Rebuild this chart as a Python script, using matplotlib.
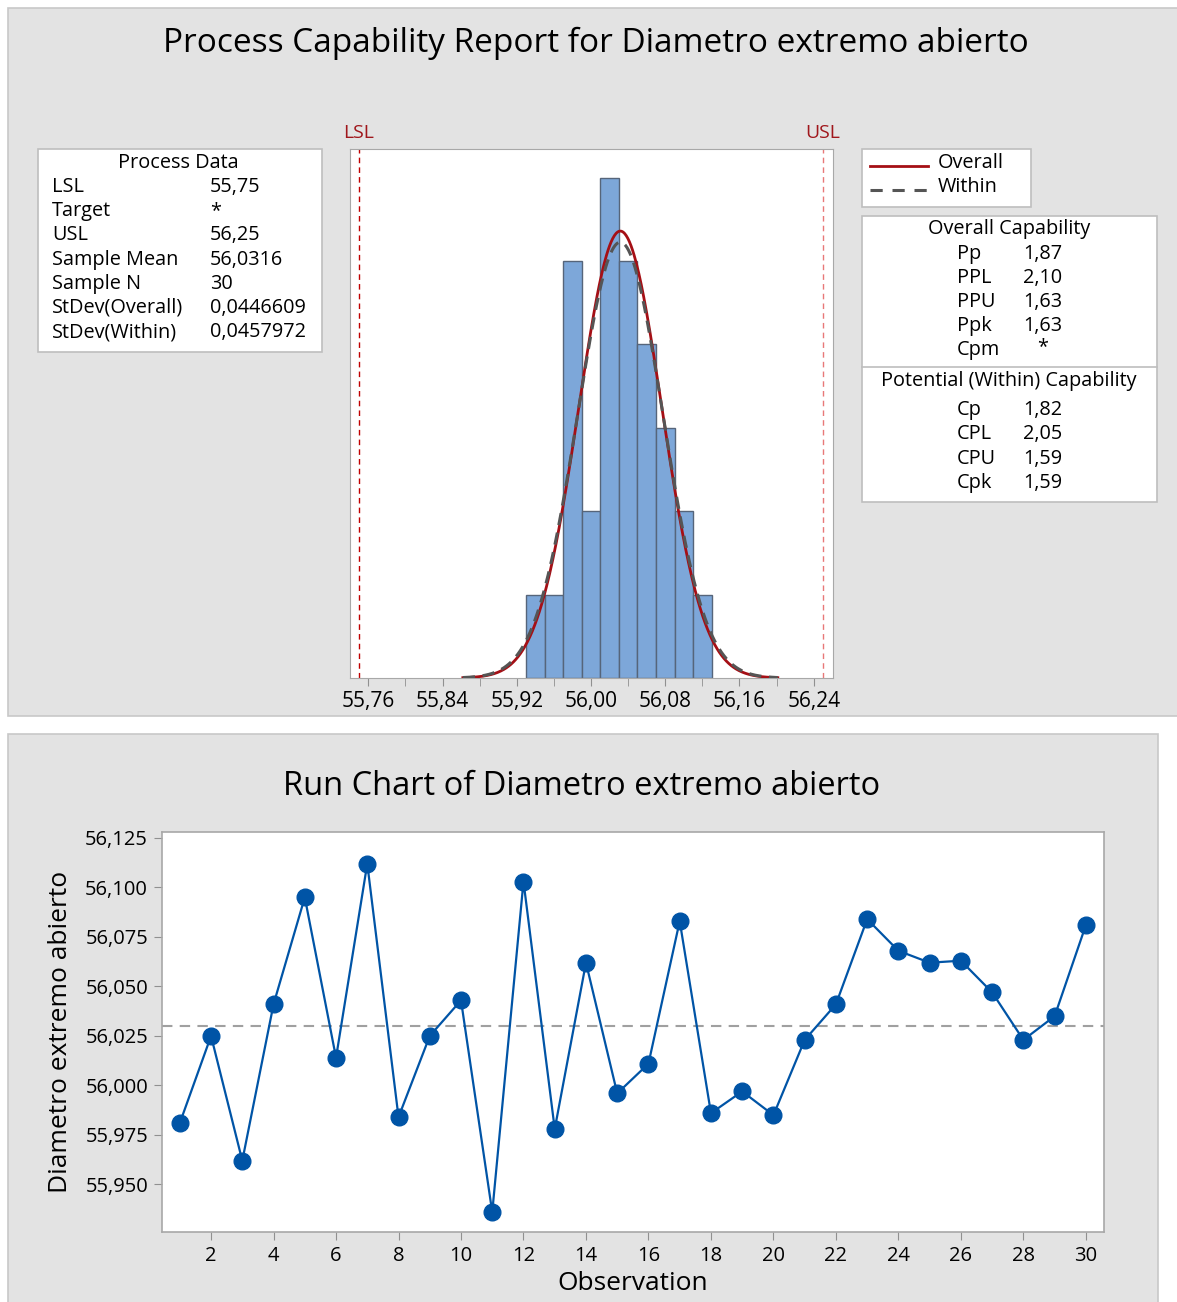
import numpy as np
import matplotlib
matplotlib.use("Agg")
import matplotlib.pyplot as plt
from matplotlib.patches import Rectangle
from matplotlib.lines import Line2D
from matplotlib.ticker import FuncFormatter, MultipleLocator

plt.rcParams['font.family'] = ['Open Sans', 'DejaVu Sans']

obs = np.arange(1, 31)
diam = [55.981, 56.025, 55.962, 56.041, 56.095, 56.014, 56.112, 55.984, 56.025, 56.043,
        55.936, 56.103, 55.978, 56.062, 55.996, 56.011, 56.083, 55.986, 55.997, 55.985,
        56.023, 56.041, 56.084, 56.068, 56.062, 56.063, 56.047, 56.023, 56.035, 56.081]

lsl = 55.75
usl = 56.25
mean_val = 56.0316
sd_overall = 0.0446609
sd_within = 0.0457972
bin_edges = np.round(np.arange(55.93, 56.131, 0.02), 2)

process_labels = ["LSL", "Target", "USL", "Sample Mean", "Sample N", "StDev(Overall)", "StDev(Within)"]
process_values = ["55,75", "*", "56,25", "56,0316", "30", "0,0446609", "0,0457972"]
overall_labels = ["Pp", "PPL", "PPU", "Ppk", "Cpm"]
overall_values = ["1,87", "2,10", "1,63", "1,63", "*"]
within_labels = ["Cp", "CPL", "CPU", "Cpk"]
within_values = ["1,82", "2,05", "1,59", "1,59"]

W, H = 1177, 1302
fig = plt.figure(figsize=(W / 100, H / 100), dpi=100)
TXT = 14.3


def fx(px):
    return px / W


def fy(py):
    return 1 - py / H


def box(l, t, r, b, fc, ec):
    fig.add_artist(Rectangle((fx(l), fy(b)), (r - l) / W, (b - t) / H,
                             facecolor=fc, edgecolor=ec, lw=1.2, transform=fig.transFigure, zorder=0))


def comma(fmt):
    return FuncFormatter(lambda v, p: (fmt % v).replace('.', ','))


# gray panels
box(8, 8, 1180, 716, '#E3E3E3', '#C8C8C8')
box(8, 734, 1158, 1310, '#E3E3E3', '#C8C8C8')

fig.text(fx(596), fy(43), "Process Capability Report for Diametro extremo abierto",
         ha='center', va='center', fontsize=24)

# ---- histogram ----
ax = fig.add_axes([fx(350), fy(678), (833 - 350) / W, (678 - 149) / H])
ax.hist(diam, bins=bin_edges, color='#7DA7D9', edgecolor='#56657A', linewidth=1, zorder=2)
binw = bin_edges[1] - bin_edges[0]
n = len(diam)
xs = np.linspace(mean_val - 3.8 * sd_overall, mean_val + 3.8 * sd_overall, 400)
pdf_o = np.exp(-0.5 * ((xs - mean_val) / sd_overall) ** 2) / (sd_overall * np.sqrt(2 * np.pi))
pdf_w = np.exp(-0.5 * ((xs - mean_val) / sd_within) ** 2) / (sd_within * np.sqrt(2 * np.pi))
ax.plot(xs, n * binw * pdf_o, color='#A50F15', lw=2, zorder=3)
ax.plot(xs, n * binw * pdf_w, color='#555555', lw=2.2, dashes=(4, 2.5), zorder=4)
ax.axvline(lsl, color='#C00000', lw=1, ls=(0, (4, 3)), zorder=1)
ax.axvline(usl, color='#E87878', lw=1, ls=(0, (4, 3)), zorder=1)
ax.text(lsl, 1.030, "LSL", transform=ax.get_xaxis_transform(), ha='center', va='center',
        color='#A0171C', fontsize=14)
ax.text(usl, 1.030, "USL", transform=ax.get_xaxis_transform(), ha='center', va='center',
        color='#A0171C', fontsize=14)
ax.set_xlim(55.7403, 56.2608)
ax.set_ylim(0, 6.344)
ax.set_yticks([])
ax.xaxis.set_minor_locator(MultipleLocator(0.04))
ax.set_xticks(np.round(np.arange(55.76, 56.241, 0.08), 2))
ax.xaxis.set_major_formatter(comma('%.2f'))
ax.tick_params(axis='x', which='both', length=6, color='#909090', labelsize=15, pad=3)
for s in ax.spines.values():
    s.set_color('#A8A8A8')

# ---- process data box ----
box(38, 149, 322, 352, 'white', '#BEBEBE')
fig.text(fx(178), fy(163), "Process Data", ha='center', va='center', fontsize=TXT)
for i, (lab, val) in enumerate(zip(process_labels, process_values)):
    y = 187 + i * 24.2
    fig.text(fx(52), fy(y), lab, ha='left', va='center', fontsize=TXT)
    fig.text(fx(210), fy(y), val, ha='left', va='center', fontsize=TXT)

# ---- legend box ----
box(862, 149, 1031, 207, 'white', '#BEBEBE')
fig.add_artist(Line2D([fx(870), fx(928)], [fy(166), fy(166)], color='#A50F15', lw=2,
                      transform=fig.transFigure))
fig.add_artist(Line2D([fx(870), fx(928)], [fy(190), fy(190)], color='#555555', lw=2.2,
                      dashes=(4, 3.2), transform=fig.transFigure))
fig.text(fx(938), fy(163), "Overall", ha='left', va='center', fontsize=TXT)
fig.text(fx(938), fy(187), "Within", ha='left', va='center', fontsize=TXT)

# ---- capability box ----
box(862, 216, 1157, 502, 'white', '#BEBEBE')
fig.add_artist(Line2D([fx(862), fx(1157)], [fy(367), fy(367)], color='#BEBEBE', lw=1.2,
                      transform=fig.transFigure))
fig.text(fx(1009), fy(229), "Overall Capability", ha='center', va='center', fontsize=TXT)
for i, (lab, val) in enumerate(zip(overall_labels, overall_values)):
    y = 254 + i * 24.1
    fig.text(fx(957), fy(y), lab, ha='left', va='center', fontsize=TXT)
    if val == "*":
        fig.text(fx(1043), fy(y - 3), val, ha='center', va='center', fontsize=TXT)
    else:
        fig.text(fx(1023), fy(y), val, ha='left', va='center', fontsize=TXT)
fig.text(fx(1009), fy(381), "Potential (Within) Capability", ha='center', va='center', fontsize=TXT)
for i, (lab, val) in enumerate(zip(within_labels, within_values)):
    y = 410 + i * 24.3
    fig.text(fx(957), fy(y), lab, ha='left', va='center', fontsize=TXT)
    fig.text(fx(1023), fy(y), val, ha='left', va='center', fontsize=TXT)

# ---- run chart ----
fig.text(fx(582), fy(786), "Run Chart of Diametro extremo abierto", ha='center', va='center',
         fontsize=23.5)
ax2 = fig.add_axes([fx(162), fy(1232), (1104 - 162) / W, (1232 - 832) / H])
ax2.axhline(np.median(diam), color='#A0A0A0', lw=1.5, ls=(0, (5, 3.5)), zorder=1)
ax2.plot(obs, diam, '-', color='#0054A6', lw=1.6, zorder=2)
ax2.plot(obs, diam, 'o', color='#0054A6', ms=12, zorder=3)
ax2.set_xlim(0.43, 30.58)
ax2.set_ylim(55.926, 56.128)
ax2.set_xticks(np.arange(2, 31, 2))
ax2.set_yticks(np.round(np.arange(55.95, 56.126, 0.025), 3))
ax2.yaxis.set_major_formatter(comma('%.3f'))
ax2.tick_params(axis='both', length=6, color='#909090', labelsize=14.5, pad=4)
for s in ax2.spines.values():
    s.set_color('#A8A8A8')
    s.set_linewidth(1.2)
ax2.set_xlabel("Observation", fontsize=19, labelpad=4)
ax2.set_ylabel("Diametro extremo abierto", fontsize=19, labelpad=9)

fig.savefig("out.png", dpi=100)
